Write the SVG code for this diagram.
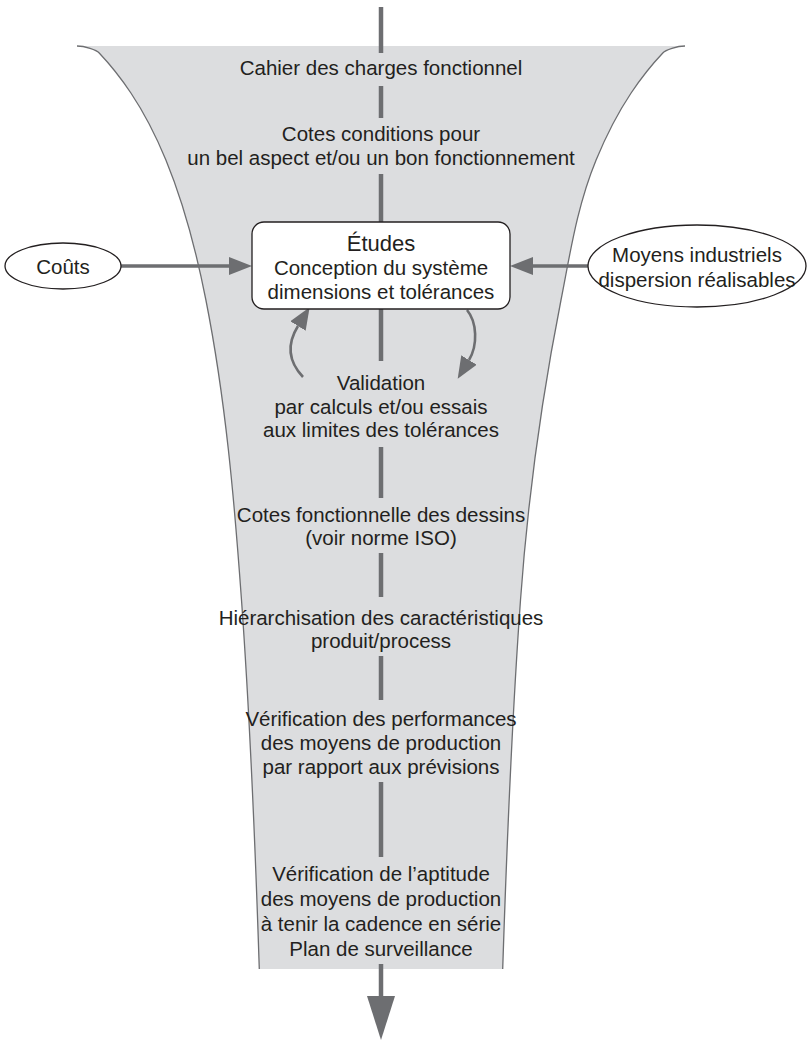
<svg xmlns="http://www.w3.org/2000/svg" width="808" height="1041" viewBox="0 0 808 1041">
  <style>
    .txt { font-family: "Liberation Sans", Arial, sans-serif; font-size: 20.5px; fill: #231f20; text-anchor: middle; }
    .title { font-size: 22px; }
    .seg { stroke: #6d6e71; stroke-width: 4.5; fill: none; }
    .feed { stroke: #6d6e71; stroke-width: 3.5; fill: none; }
    .loop { stroke: #6d6e71; stroke-width: 2.6; fill: none; }
    .shape { fill: #ffffff; stroke: #231f20; stroke-width: 1.3; }
    .edge { fill: none; stroke: #6d6e71; stroke-width: 1.3; }
  </style>
  <defs>
    <marker id="headH" markerUnits="userSpaceOnUse" markerWidth="24" markerHeight="18" refX="0" refY="9" orient="auto">
      <path d="M0,0 L23,9 L0,18 Z" fill="#6d6e71"/>
    </marker>
    <marker id="headLoop" markerUnits="userSpaceOnUse" markerWidth="23" markerHeight="18" refX="0" refY="9" orient="auto">
      <path d="M0,0 L22,9 L0,18 Z" fill="#6d6e71"/>
    </marker>
    <marker id="headOut" markerUnits="userSpaceOnUse" markerWidth="45" markerHeight="28" refX="0" refY="14" orient="auto">
      <path d="M0,0 L44,14 L0,28 Z" fill="#6d6e71"/>
    </marker>
  </defs>

  <!-- funnel body: flared top, tapering down to a flat bottom -->
  <g id="funnel">
    <path fill="#dcdddf" d="M77,46 C85,46 96.4,50 99.2,53 C111.8,66.3 122,79.7 130.9,93 C145.8,115.3 156.7,137.7 165.9,160 C185.1,206.7 196.7,253.3 205.9,300 C225.65,400 234.3,500 241.5,600 C250.3,723 255.3,846 259.3,969 L502.7,969 C506.7,846 511.7,723 520.5,600 C527.7,500 541.25,400 561,300 C570.2,253.3 576.9,206.7 596.1,160 C605.3,137.7 616.2,115.3 631.1,93 C640,79.7 650.2,66.3 662.8,53 C665.6,50 677,46 685,46 Z"/>
    <path class="edge" d="M77,46 C85,46 96.4,50 99.2,53 C111.8,66.3 122,79.7 130.9,93 C145.8,115.3 156.7,137.7 165.9,160 C185.1,206.7 196.7,253.3 205.9,300 C225.65,400 234.3,500 241.5,600 C250.3,723 255.3,846 259.3,969"/>
    <path class="edge" d="M685,46 C677,46 665.6,50 662.8,53 C650.2,66.3 640,79.7 631.1,93 C616.2,115.3 605.3,137.7 596.1,160 C576.9,206.7 570.2,253.3 561,300 C541.25,400 527.7,500 520.5,600 C511.7,723 506.7,846 502.7,969"/>
  </g>

  <!-- connectors -->
  <g id="connectors">
    <line class="seg" x1="381" y1="7" x2="381" y2="53"/>
    <line class="seg" x1="381" y1="86" x2="381" y2="118"/>
    <line class="seg" x1="381" y1="174" x2="381" y2="222"/>
    <line class="seg" x1="381" y1="309" x2="381" y2="361"/>
    <line class="seg" x1="381" y1="447" x2="381" y2="498"/>
    <line class="seg" x1="381" y1="553" x2="381" y2="597"/>
    <line class="seg" x1="381" y1="656" x2="381" y2="700"/>
    <line class="seg" x1="381" y1="782" x2="381" y2="857"/>
    <line class="seg" x1="381" y1="964" x2="381" y2="996" marker-end="url(#headOut)"/>
    <line class="feed" x1="121" y1="266" x2="229" y2="266" marker-end="url(#headH)"/>
    <line class="feed" x1="588" y1="266" x2="533" y2="266" marker-end="url(#headH)"/>
    <path class="loop" d="M303,377 C287,360 288,342 298,326" marker-end="url(#headLoop)"/>
    <path class="loop" d="M467,310 C477,322 478,345 469,360" marker-end="url(#headLoop)"/>
  </g>

  <g id="n-cahier">
    <text class="txt" x="381" y="75">Cahier des charges fonctionnel</text>
  </g>

  <g id="n-cotes-conditions">
    <text class="txt" x="381" y="141">Cotes conditions pour</text>
    <text class="txt" x="381" y="165">un bel aspect et/ou un bon fonctionnement</text>
  </g>

  <g id="n-etudes">
    <rect class="shape" x="252" y="222" width="258" height="87" rx="12" ry="12"/>
    <text class="txt title" x="381" y="251">Études</text>
    <text class="txt" x="381" y="274.5">Conception du système</text>
    <text class="txt" x="381" y="298.5">dimensions et tolérances</text>
  </g>

  <g id="n-couts">
    <ellipse class="shape" cx="63" cy="266" rx="58" ry="23"/>
    <text class="txt" x="63" y="273.5">Coûts</text>
  </g>

  <g id="n-moyens">
    <ellipse class="shape" cx="697" cy="266" rx="109" ry="41"/>
    <text class="txt" x="697" y="261.5">Moyens industriels</text>
    <text class="txt" x="697" y="286.5">dispersion réalisables</text>
  </g>

  <g id="n-validation">
    <text class="txt" x="381" y="389.5">Validation</text>
    <text class="txt" x="381" y="413.5">par calculs et/ou essais</text>
    <text class="txt" x="381" y="436.5">aux limites des tolérances</text>
  </g>

  <g id="n-cotes-fonctionnelles">
    <text class="txt" x="381" y="521.5">Cotes fonctionnelle des dessins</text>
    <text class="txt" x="381" y="544.5">(voir norme ISO)</text>
  </g>

  <g id="n-hierarchisation">
    <text class="txt" x="381" y="624.5">Hiérarchisation des caractéristiques</text>
    <text class="txt" x="381" y="647.5">produit/process</text>
  </g>

  <g id="n-verif-performances">
    <text class="txt" x="381" y="725.5">Vérification des performances</text>
    <text class="txt" x="381" y="749.5">des moyens de production</text>
    <text class="txt" x="381" y="773.5">par rapport aux prévisions</text>
  </g>

  <g id="n-verif-aptitude">
    <text class="txt" x="381" y="880.5">Vérification de l’aptitude</text>
    <text class="txt" x="381" y="905.5">des moyens de production</text>
    <text class="txt" x="381" y="930.5">à tenir la cadence en série</text>
    <text class="txt" x="381" y="955.5">Plan de surveillance</text>
  </g>
</svg>
